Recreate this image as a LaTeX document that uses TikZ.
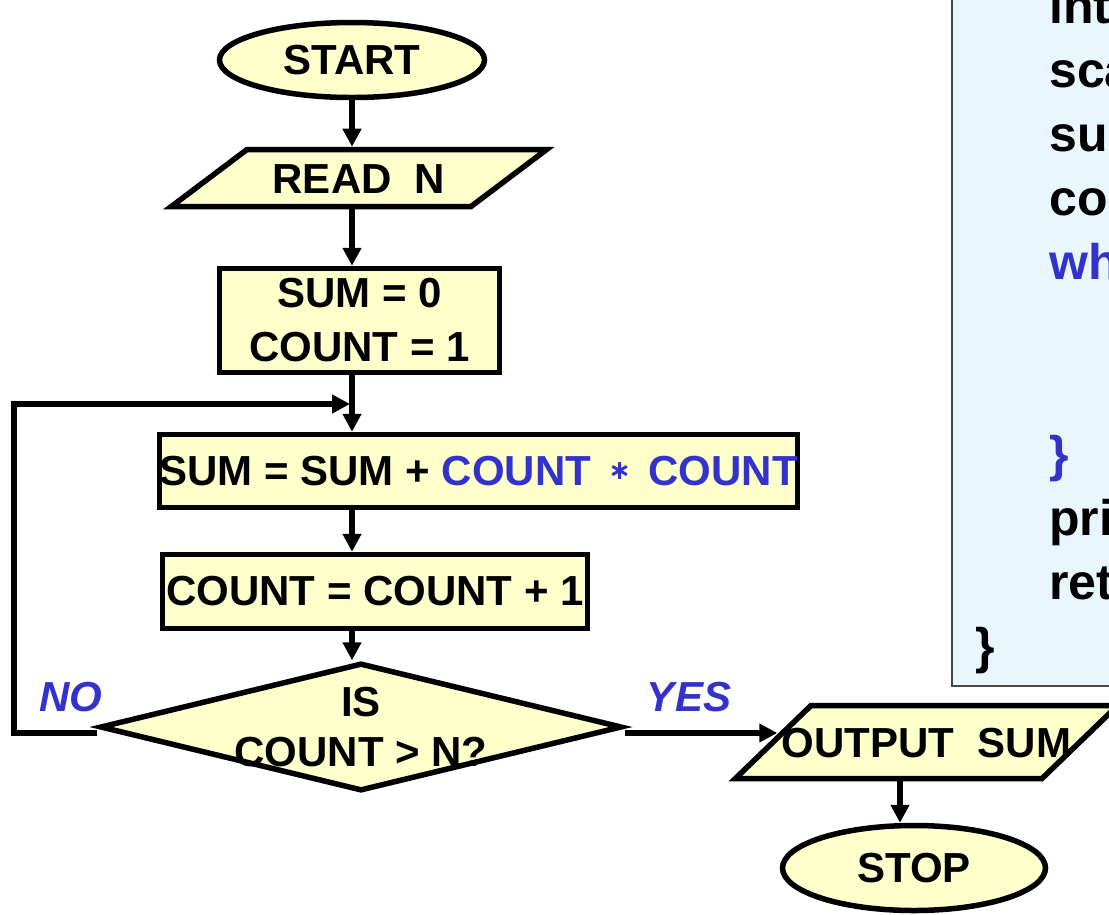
\documentclass[tikz,border=0pt]{standalone}
\usepackage{fontspec}
\setmainfont{Liberation Sans}
\newfontfamily\opfont{DejaVu Sans}
\usetikzlibrary{shapes.geometric,arrows.meta}

\definecolor{chartfill}{RGB}{255,255,204}
\definecolor{keyblue}{RGB}{51,51,204}
\definecolor{codefill}{RGB}{234,246,253}
\definecolor{codeline}{RGB}{70,70,70}

\begin{document}
\begin{tikzpicture}[x=1pt,y=-1pt]

      % Styles for the flowchart boxes and the connectors
      \tikzstyle{chart}=[draw,line width=5.5pt,fill=chartfill,font=\fontsize{42}{54}\selectfont\bfseries]
      \tikzstyle{terminal}=[chart,ellipse,inner sep=0pt]
      % The parallelograms get their height from inner ysep, the body width from a \makebox
      \tikzstyle{io}=[chart,trapezium,inner xsep=0pt,text height=30pt,text depth=0pt]
      \tikzstyle{process}=[chart,rectangle,inner sep=0pt,align=center]
      \tikzstyle{decision}=[chart,diamond,inner sep=0pt]
      \tikzstyle{answer}=[text=keyblue,font=\fontsize{42}{50}\selectfont\bfseries\itshape]
      \tikzstyle{flow}=[line width=5.5pt,-{Triangle[length=18pt,width=18pt]}]
      \tikzstyle{code}=[anchor=base west,inner sep=0pt,font=\fontsize{50}{64}\selectfont\bfseries]

      % Small raised asterisk between the two COUNTs
      \def\countstar{\makebox[34pt]{\raisebox{6pt}{\opfont\bfseries\fontsize{27}{27}\selectfont ∗}}}

      \clip (0,0) rectangle (1109,914);

      % Program text on the right
      \draw [fill=codefill,draw=codeline,line width=1.5pt] (952,-10) rectangle (1140,686);
      \foreach \y/\txt/\col [count=\i] in {23/int/black, 87/scanf/black, 151/sum/black,
          215/count/black, 279/while/keyblue, 471/\}/keyblue, 535/printf/black, 599/return/black}
        \node [code,text=\col] (line\i) at (1049,\y) {\txt};
      \node [code] (closing) at (975,663) {\}};

      % Flowchart
      \node [terminal,minimum width=265pt,minimum height=75pt] (start) at (352,60) {START};
      \node [io,trapezium left angle=37,trapezium right angle=143,inner ysep=13.5pt]
            (read) at (359,178) {\makebox[224pt]{READ\ \ N}};
      \node [process,minimum width=280pt,minimum height=104pt] (init) at (359.5,320.5) {SUM = 0\\COUNT = 1};
      \node [process,minimum width=632pt,minimum height=73pt] (sum) at (478.5,471)
            {SUM = SUM + \textcolor{keyblue}{COUNT \countstar{} COUNT}};
      \node [process,minimum width=425pt,minimum height=74pt] (count) at (375,591.5) {COUNT = COUNT + 1};
      \node [decision,minimum width=522pt,minimum height=128pt] (test) at (361,727) {};
      \node [align=center,font=\fontsize{42}{50}\selectfont\bfseries] (testtext) at (test) {IS\\COUNT > N?};
      \node [io,trapezium left angle=44,trapezium right angle=136,inner ysep=21.5pt]
            (output) at (926.5,742) {\makebox[231pt]{OUTPUT\ \ SUM}};
      \node [terminal,minimum width=263pt,minimum height=85pt] (stop) at (914,868) {STOP};

      \node [answer] (no) at (71,697) {NO};
      \node [answer] (yes) at (689,697) {YES};

      % Connectors
      \draw [flow] (start.south) -- (start |- read.north);
      \draw [flow] (read.south -| start) -- (init.north -| start);
      \draw [flow] (init.south -| start) -- (sum.north -| start);
      \draw [flow] (sum.south -| start) -- (count.north -| start);
      \draw [flow] (count.south -| start) -- (test.north -| start);

      \coordinate (back) at (14,404);
      \coordinate (merge) at (350,404);
      \coordinate (nostart) at ([yshift=-6pt]test.west);
      \draw [flow] (nostart) -| (back) -- (merge);  % loop back

      \coordinate (yesstart) at ([yshift=-6pt]test.east);
      \draw [flow] (yesstart) -- ([xshift=8pt]yesstart -| output.west);

      \coordinate (drop) at ([xshift=-14pt]stop.north);
      \draw [flow] (drop |- output.south) -- (drop);

\end{tikzpicture}
\end{document}
